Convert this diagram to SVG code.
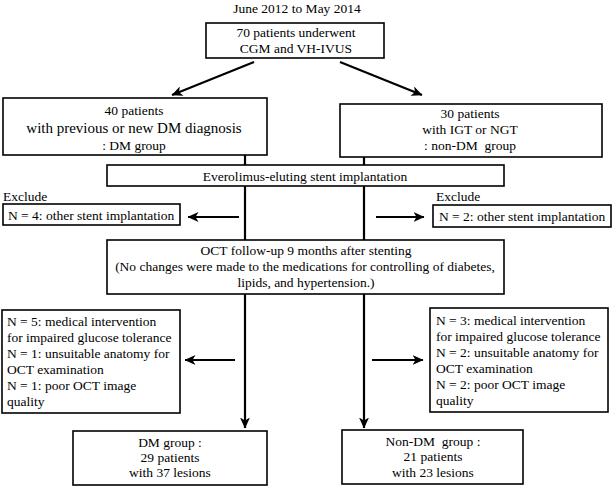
<svg xmlns="http://www.w3.org/2000/svg" width="614" height="487" viewBox="0 0 614 487">
<defs>
<marker id="ah" viewBox="0 0 11 10" refX="10.5" refY="5" markerWidth="11" markerHeight="10" markerUnits="userSpaceOnUse" orient="auto">
<path d="M0,0 L11,5 L0,10 L3,5 z" fill="#000"/>
</marker>
<style>
.box{fill:#fff;stroke:#000;stroke-width:1.6}
text{font-family:"Liberation Serif","Times New Roman",serif;font-size:13.5px;fill:#000}
.c{text-anchor:middle}
.big{font-size:15px}
.ln{stroke:#000;stroke-width:2.2;fill:none}
.ar{stroke:#000;stroke-width:2.2;fill:none;marker-end:url(#ah)}
</style>
</defs>
<rect width="614" height="487" fill="#fff"/>
<text class="c" x="297" y="13">June 2012 to May 2014</text>
<g id="connectors">
<line class="ar" x1="254" y1="62" x2="172" y2="95"/>
<line class="ar" x1="340" y1="62" x2="422" y2="95"/>
<line class="ln" x1="245" y1="155" x2="245" y2="165"/>
<line class="ln" x1="364" y1="157" x2="364" y2="165"/>
<line class="ln" x1="245" y1="186" x2="245" y2="240"/>
<line class="ln" x1="364" y1="186" x2="364" y2="240"/>
<line class="ar" x1="239" y1="217" x2="188" y2="217"/>
<line class="ar" x1="376" y1="217" x2="424" y2="217"/>
<line class="ar" x1="245" y1="294" x2="245" y2="428"/>
<line class="ar" x1="364" y1="294" x2="364" y2="428"/>
<line class="ar" x1="235" y1="360" x2="185" y2="360"/>
<line class="ar" x1="372" y1="360" x2="423" y2="360"/>
</g>
<g id="start">
<rect class="box" x="206" y="23" width="178" height="35"/>
<text class="c" x="296" y="37">70 patients underwent</text>
<text class="c" x="296" y="53">CGM and VH-IVUS</text>
</g>
<g id="dm">
<rect class="box" x="3" y="98" width="264" height="57"/>
<text class="c" x="134" y="115">40 patients</text>
<text class="c big" x="134" y="133">with previous or new DM diagnosis</text>
<text class="c" x="134" y="150">: DM group</text>
</g>
<g id="nondm">
<rect class="box" x="340" y="104" width="262" height="53"/>
<text class="c" x="470" y="118">30 patients</text>
<text class="c" x="470" y="134">with IGT or NGT</text>
<text class="c" x="470" y="150" xml:space="preserve">: non-DM  group</text>
</g>
<g id="stent">
<rect class="box" x="107" y="165" width="397" height="21"/>
<text class="c" x="305" y="181">Everolimus-eluting stent implantation</text>
</g>
<g id="excl-left-1">
<text x="3" y="201">Exclude</text>
<rect class="box" x="3" y="204" width="177" height="21"/>
<text x="8" y="220">N = 4: other stent implantation</text>
</g>
<g id="excl-right-1">
<text x="436" y="201">Exclude</text>
<rect class="box" x="433" y="205" width="178" height="22"/>
<text x="439" y="221">N = 2: other stent implantation</text>
</g>
<g id="oct">
<rect class="box" x="107" y="240" width="397" height="54"/>
<text class="c" x="306" y="255">OCT follow-up 9 months after stenting</text>
<text class="c" x="305" y="271">(No changes were made to the medications for controlling of diabetes,</text>
<text class="c" x="306" y="287">lipids, and hypertension.)</text>
</g>
<g id="excl-left-2">
<rect class="box" x="2" y="310" width="178" height="103"/>
<text x="7" y="326">N = 5: medical intervention</text>
<text x="7" y="342">for impaired glucose tolerance</text>
<text x="7" y="358">N = 1: unsuitable anatomy for</text>
<text x="7" y="374">OCT examination</text>
<text x="7" y="390">N = 1: poor OCT image</text>
<text x="7" y="406">quality</text>
</g>
<g id="excl-right-2">
<rect class="box" x="430" y="308" width="178" height="104"/>
<text x="436" y="325">N = 3: medical intervention</text>
<text x="436" y="341">for impaired glucose tolerance</text>
<text x="436" y="357">N = 2: unsuitable anatomy for</text>
<text x="436" y="373">OCT examination</text>
<text x="436" y="389">N = 2: poor OCT image</text>
<text x="436" y="405">quality</text>
</g>
<g id="dm-final">
<rect class="box" x="73" y="431" width="194" height="54"/>
<text class="c" x="170" y="447">DM group :</text>
<text class="c" x="170" y="462">29 patients</text>
<text class="c" x="170" y="477">with 37 lesions</text>
</g>
<g id="nondm-final">
<rect class="box" x="342" y="430" width="181" height="54"/>
<text class="c" x="433" y="446" xml:space="preserve">Non-DM  group :</text>
<text class="c" x="433" y="461">21 patients</text>
<text class="c" x="433" y="477">with 23 lesions</text>
</g>
</svg>
